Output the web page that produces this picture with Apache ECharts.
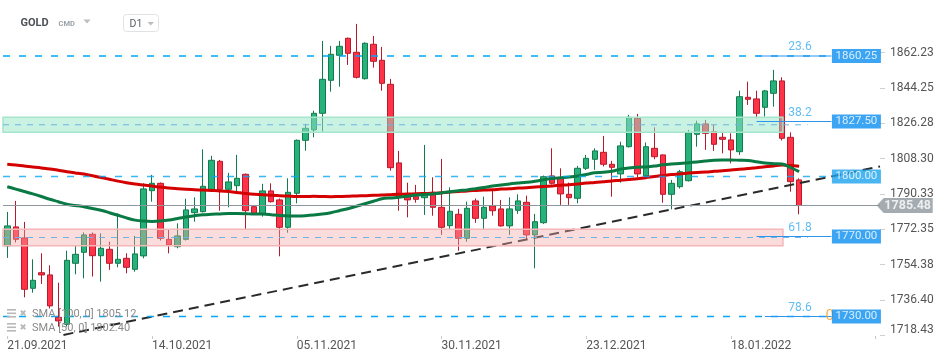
<!DOCTYPE html>
<html><head><meta charset="utf-8">
<script src="https://cdn.jsdelivr.net/npm/echarts@6/dist/echarts.min.js"></script>
<style>html,body{margin:0;padding:0;background:#fff}#c{width:950px;height:361px}</style>
</head><body><div id="c"></div>
<script>
// ---- data ----
const dateLabels = ['21.09.2021','14.10.2021','05.11.2021','30.11.2021','23.12.2021','18.01.2022'];
const labelStep = 17;
const slotCount = 103;
const opens  = [1765.3,1774.8,1769.3,1744.1,1751.9,1750.8,1729.6,1726.1,1756.6,1762.1,1771.1,1760.4,1763.6,1756.6,1759.1,1753.6,1760.3,1792.9,1796.6,1768.6,1764.9,1768.6,1781.9,1782.4,1793.6,1807.6,1793.6,1795.4,1801.1,1784.9,1781.3,1792.8,1788.3,1774.6,1791.6,1818.1,1823.3,1831.6,1848.1,1860.6,1869.1,1862.1,1848.9,1866.1,1858.1,1846.1,1806.8,1789.9,1789.9,1789.4,1792.1,1784.6,1775.4,1781.1,1769.1,1787.8,1779.1,1785.3,1783.8,1775.3,1783.1,1787.1,1770.8,1776.9,1800.3,1799.1,1791.1,1789.1,1804.1,1808.6,1812.1,1806.1,1801.3,1814.9,1829.1,1800.3,1814.1,1810.8,1791.1,1794.9,1797.9,1821.1,1826.3,1822.4,1819.6,1818.3,1812.4,1839.6,1838.8,1834.6,1841.6,1847.8,1819.6,1798.3];
const closes = [1775.3,1768.6,1743.6,1748.1,1750.8,1735.3,1727.8,1758.1,1761.1,1770.8,1760.4,1764.1,1756.6,1758.6,1754.6,1761.3,1793.8,1796.6,1769.1,1765.8,1770.3,1783.3,1783.8,1795.1,1808.1,1793.6,1797.3,1799.1,1782.9,1781.6,1792.8,1787.4,1774.6,1792.1,1818.1,1824.1,1831.6,1848.6,1861.1,1865.1,1861.6,1849.6,1866.6,1857.6,1846.6,1804.4,1789.9,1788.3,1788.6,1790.8,1784.6,1774.6,1782.6,1769.1,1784.1,1779.1,1784.6,1782.9,1775.3,1783.8,1787.8,1770.8,1777.4,1799.9,1796.6,1791.3,1789.4,1804.1,1809.1,1812.8,1806.1,1804.6,1815.3,1829.6,1801.3,1814.9,1809.9,1791.1,1796.6,1802.4,1821.9,1826.3,1821.6,1816.1,1818.6,1813.3,1839.9,1838.6,1831.6,1842.8,1847.8,1819.1,1797.4,1785.5];
const lows   = [1759.3,1767.0,1739.6,1741.9,1746.3,1734.0,1724.9,1725.0,1751.1,1749.1,1750.0,1747.4,1753.3,1754.6,1751.6,1752.4,1759.1,1787.4,1768.0,1761.6,1764.1,1768.0,1777.4,1782.0,1793.0,1782.9,1784.6,1792.0,1773.3,1781.0,1779.9,1787.0,1760.1,1771.9,1786.6,1812.9,1819.6,1822.4,1842.4,1844.9,1855.8,1849.0,1848.5,1854.4,1842.9,1802.9,1782.9,1779.6,1786.9,1780.8,1780.4,1770.8,1773.3,1762.9,1767.4,1776.8,1773.6,1780.4,1774.9,1770.8,1781.3,1768.3,1754.1,1776.3,1796.0,1785.8,1785.8,1786.6,1803.3,1803.3,1805.0,1789.9,1796.9,1814.5,1799.6,1799.0,1808.6,1786.9,1783.6,1794.0,1797.5,1814.9,1813.3,1812.8,1811.6,1806.6,1810.8,1835.8,1829.1,1829.9,1834.9,1818.0,1792.4,1781.1];
const highs  = [1782.3,1787.8,1777.3,1758.6,1761.6,1755.6,1746.9,1762.9,1765.4,1772.0,1772.0,1771.6,1767.4,1781.6,1761.6,1770.3,1796.6,1800.8,1797.0,1773.3,1776.6,1788.9,1789.6,1813.6,1810.3,1808.3,1801.8,1810.8,1801.5,1785.5,1796.3,1796.6,1789.0,1799.1,1818.5,1826.3,1832.9,1867.8,1865.3,1867.8,1869.5,1876.3,1867.1,1870.3,1864.8,1848.8,1812.8,1796.9,1795.8,1815.8,1799.6,1808.8,1794.6,1783.8,1787.4,1789.0,1789.9,1792.9,1788.3,1789.6,1791.1,1790.4,1781.3,1800.5,1814.1,1804.1,1797.0,1805.3,1810.8,1814.1,1820.3,1807.8,1817.4,1830.8,1831.3,1817.0,1824.6,1811.0,1798.3,1803.3,1823.3,1827.9,1828.3,1825.8,1822.4,1821.6,1842.9,1847.4,1842.9,1843.3,1853.3,1849.6,1822.1,1799.1];
const sma100 = [1806.1,1805.7,1805.2,1804.8,1804.3,1803.8,1803.1,1802.4,1801.8,1801.2,
1800.4,1799.5,1798.6,1797.7,1796.9,1796.2,1795.7,1795.2,1794.7,1794.3,
1793.9,1793.6,1793.4,1793.2,1793.0,1792.8,1792.5,1792.0,1791.5,1791.1,
1790.9,1790.6,1790.4,1790.2,1790.0,1790.0,1790.1,1790.0,1789.9,1790.0,
1790.1,1790.3,1790.4,1790.6,1790.7,1790.9,1791.1,1791.2,1791.4,1791.5,
1791.6,1791.9,1792.2,1792.5,1792.8,1793.0,1793.2,1793.4,1793.7,1793.9,
1794.2,1794.4,1794.7,1795.0,1795.3,1795.6,1795.9,1796.3,1796.7,1797.0,
1797.4,1797.8,1798.1,1798.5,1798.9,1799.4,1800.0,1800.5,1801.0,1801.3,
1801.7,1802.0,1802.2,1802.6,1802.9,1803.2,1803.6,1804.0,1804.4,1804.9,
1805.3,1805.7,1805.5,1805.1];
const sma50 = [1794.9,1793.7,1792.5,1791.3,1790.0,1788.6,1787.4,1786.1,1785.5,1784.9,
1784.0,1783.1,1781.9,1780.6,1779.3,1778.2,1777.7,1777.5,1777.7,1778.2,
1779.0,1779.8,1780.4,1780.9,1781.1,1781.3,1781.5,1781.5,1781.4,1781.2,
1781.2,1780.9,1780.5,1780.3,1780.3,1780.4,1780.7,1781.2,1781.9,1782.9,
1783.9,1785.1,1786.4,1787.6,1788.9,1789.3,1789.6,1790.1,1790.7,1791.0,
1791.3,1791.8,1792.4,1792.9,1793.3,1793.9,1794.5,1795.2,1795.8,1796.3,
1796.7,1797.1,1797.6,1798.4,1799.0,1799.4,1799.8,1800.3,1801.0,1801.9,
1802.1,1802.6,1803.7,1804.2,1804.6,1804.8,1805.2,1805.9,1806.3,1806.5,
1806.9,1807.3,1807.7,1808.1,1808.3,1808.3,1808.1,1808.0,1807.4,1806.7,
1806.4,1806.2,1804.5,1802.4];
const priceTicks = [1718.43,1736.40,1754.38,1772.35,1790.33,1808.30,1826.28,1844.25,1862.23];
const mainLevels = [1860.25,1800.00,1730.00];
const levelBoxes = [1860.25,1827.50,1800.00,1770.00,1730.00];
const fibNames = ['23.6','38.2','61.8','78.6'];
const fibValues = [1860.25,1827.50,1770.00,1730.00];
const zoneTops = [1829.6,1773.6];
const zoneBottoms = [1822.1,1765.4];
const trendX = [6.6,102.5];
const trendY = [1720.8,1805.0];
const lastPrice = 1785.48;
const smaLegend = ['SMA [100, 0] 1805.12','SMA [50, 0] 1802.40'];

// ---- build ----
const categories = Array.from({length: slotCount}, (_, i) =>
  (i % labelStep === 0 && i / labelStep < dateLabels.length) ? dateLabels[i / labelStep] : '');
const candleData = opens.map((o, i) => [o, closes[i], lows[i], highs[i]]);
const FONT = 'Roboto, "Noto Sans", sans-serif';

const chart = echarts.init(document.getElementById('c'), null, {renderer: 'canvas'});

const series = [];
series.push({
  type: 'candlestick', xAxisIndex: 0, yAxisIndex: 0, data: candleData, barWidth: 6, z: 2,
  itemStyle: {color: '#27b27b', color0: '#ff3347', borderColor: '#137a4d', borderColor0: '#b8192b', borderWidth: 1},
  markLine: {silent: true, symbol: 'none', animation: false, label: {show: false},
    lineStyle: {color: '#8d979d', width: 1, type: 'solid'}, data: [{yAxis: lastPrice}]}
});
series.push({type: 'line', xAxisIndex: 0, yAxisIndex: 0, data: sma100, symbol: 'none', smooth: 0.3, z: 3,
  lineStyle: {color: '#d40000', width: 3}});
series.push({type: 'line', xAxisIndex: 0, yAxisIndex: 0, data: sma50, symbol: 'none', smooth: 0.3, z: 3,
  lineStyle: {color: '#0a7a45', width: 3}});
// trend line
series.push({type: 'line', xAxisIndex: 1, yAxisIndex: 0, data: trendX.map((x, i) => [x, trendY[i]]),
  symbol: 'none', z: 4, lineStyle: {color: '#2a2a2a', width: 2, type: [10, 6]}});
// main dashed levels
mainLevels.forEach(l => series.push({type: 'line', xAxisIndex: 1, yAxisIndex: 0, data: [[-0.5, l], [96.8, l]],
  symbol: 'none', z: 6, lineStyle: {color: '#07a6f5', width: 1.5, type: [7, 9], opacity: l === 1800 ? 0.8 : 1}}));
// zones
zoneTops.forEach((t, k) => series.push({
  type: 'custom', xAxisIndex: 1, yAxisIndex: 0, z: 10, data: [[-0.5, t, 91.1, zoneBottoms[k]]],
  renderItem: (params, api) => {
    const p0 = api.coord([api.value(0), api.value(1)]);
    const p1 = api.coord([api.value(2), api.value(3)]);
    return {type: 'rect', shape: {x: p0[0], y: p0[1], width: p1[0] - p0[0], height: p1[1] - p0[1]},
      style: k === 0 ? {fill: 'rgba(150,230,198,0.5)', stroke: '#a4e6cb', lineWidth: 1.5}
                     : {fill: 'rgba(243,168,168,0.4)', stroke: '#f4b6b6', lineWidth: 1.5}};
  }
}));
// zone mid dashed lines
zoneTops.forEach((t, k) => {
  const m = (t + zoneBottoms[k]) / 2;
  series.push({type: 'line', xAxisIndex: 1, yAxisIndex: 0, data: [[-0.5, m], [94, m]], symbol: 'none', z: 11,
    lineStyle: {color: '#6db3e4', width: 1, type: [6, 6]}});
});
// fib segments
fibValues.forEach((v, k) => series.push({type: 'line', xAxisIndex: 1, yAxisIndex: 0,
  data: [[k === 3 ? 89 : 88, v], [96.8, v]], symbol: 'none', z: 12, lineStyle: {color: '#2b95ee', width: 1.2}}));
// fib labels
series.push({type: 'scatter', xAxisIndex: 1, yAxisIndex: 0, symbolSize: 0, z: 12, clip: false,
  data: fibValues.map((v, k) => ({value: [93.1, v], name: fibNames[k]})),
  label: {show: true, position: 'inside', offset: [0, -9], formatter: p => p.name, color: '#38adf0', fontSize: 12, fontFamily: FONT}});
// orange 0
series.push({type: 'scatter', xAxisIndex: 1, yAxisIndex: 0, symbolSize: 0, z: 13, clip: false,
  data: [{value: [96.6, 1730], name: '0'}],
  label: {show: true, position: 'inside', formatter: '0', color: '#ff9a1f', fontSize: 15, fontFamily: FONT}});
// level boxes
series.push({type: 'scatter', xAxisIndex: 1, yAxisIndex: 0, symbol: 'rect', symbolSize: [49, 14], z: 20, clip: false,
  data: levelBoxes.map(v => ({value: [99.73, v], itemStyle: {color: v === 1800 ? '#1ba3ee' : '#0b8ef0'}})),
  label: {show: true, position: 'inside', formatter: p => p.value[1].toFixed(2), color: '#fff', fontSize: 11.5, fontFamily: FONT}});
// last price arrow label
series.push({type: 'scatter', xAxisIndex: 1, yAxisIndex: 0, z: 20, clip: false,
  symbol: 'path://M0,7.5 L7,0 L56,0 L56,15 L7,15 Z', symbolSize: [56, 15],
  itemStyle: {color: '#8d979d'},
  data: [{value: [105.4, lastPrice]}],
  label: {show: true, position: 'inside', offset: [3, 0], formatter: lastPrice.toFixed(2), color: '#fff', fontSize: 12.5, fontWeight: 'bold', fontFamily: FONT}});

const option = {
  animation: false,
  backgroundColor: '#fff',
  grid: {left: 3, right: 70, top: 10, bottom: 25, containLabel: false},
  xAxis: [
    {type: 'category', data: categories, boundaryGap: true,
      axisLine: {show: false},
      axisTick: {show: true, interval: labelStep - 1, alignWithLabel: true, length: 3, lineStyle: {color: '#c8c8c8'}},
      axisLabel: {interval: labelStep - 1, align: 'left', margin: 4, color: '#555', fontSize: 12, fontFamily: FONT},
      splitLine: {show: false}},
    {type: 'value', min: -0.5, max: slotCount - 0.5, show: false, splitLine: {show: false}}
  ],
  yAxis: [
    {type: 'value', min: 1720.25, max: 1883.25, show: false, splitLine: {show: false}},
    {type: 'value', position: 'right', min: 1717.98, max: 1883.97, splitLine: {show: false},
      axisLine: {show: false},
      axisTick: {show: true, length: 5, lineStyle: {color: '#d0d0d0'}, customValues: priceTicks},
      axisLabel: {customValues: priceTicks, margin: 10, color: '#555', fontSize: 12, fontFamily: FONT,
        formatter: v => v < 1720 ? '{low|' + v.toFixed(2) + '}' : v.toFixed(2),
        rich: {low: {padding: [0, 0, 10, 0], color: '#555', fontSize: 12, fontFamily: FONT}}}}
  ],
  graphic: [
    {type: 'text', x: 20.5, y: 23.5, style: {text: 'GOLD', font: 'bold 11px ' + FONT, fill: '#4d5257', verticalAlign: 'middle'}},
    {type: 'text', x: 58.5, y: 24, style: {text: 'CMD', font: 'bold 7.5px ' + FONT, fill: '#9aa2a9', verticalAlign: 'middle'}},
    {type: 'polygon', shape: {points: [[83.5, 19.5], [90.5, 19.5], [87, 23.5]]}, style: {fill: '#b9bec2'}},
    {type: 'rect', shape: {x: 123.5, y: 14.5, width: 35, height: 17, r: 3}, style: {fill: '#fff', stroke: '#e0e3e6', lineWidth: 1}},
    {type: 'text', x: 129.5, y: 24, style: {text: 'D1', font: '10.5px ' + FONT, fill: '#5b6166', verticalAlign: 'middle'}},
    {type: 'polygon', shape: {points: [[147.5, 22], [154, 22], [150.75, 25.5]]}, style: {fill: '#b9bec2'}},
    // legend rows
    ...smaLegend.flatMap((t, k) => {
      const cy = 314 + k * 14;
      return [
        {type: 'rect', shape: {x: 7, y: cy - 5, width: 9, height: 1.6}, style: {fill: '#b8b8b8'}, z: 100},
        {type: 'rect', shape: {x: 7, y: cy - 1.5, width: 9, height: 1.6}, style: {fill: '#b8b8b8'}, z: 100},
        {type: 'rect', shape: {x: 7, y: cy + 2, width: 9, height: 1.6}, style: {fill: '#b8b8b8'}, z: 100},
        {type: 'text', x: 19.5, y: cy, z: 100, style: {text: '\u2716', font: '8.5px "DejaVu Sans"', fill: '#b8b8b8', verticalAlign: 'middle'}},
        {type: 'text', x: 32, y: cy, z: 100, style: {text: t, font: '11px ' + FONT, fill: '#8a8a8a', verticalAlign: 'middle'}}
      ];
    })
  ],
  series: series
};
chart.setOption(option);
</script></body></html>
